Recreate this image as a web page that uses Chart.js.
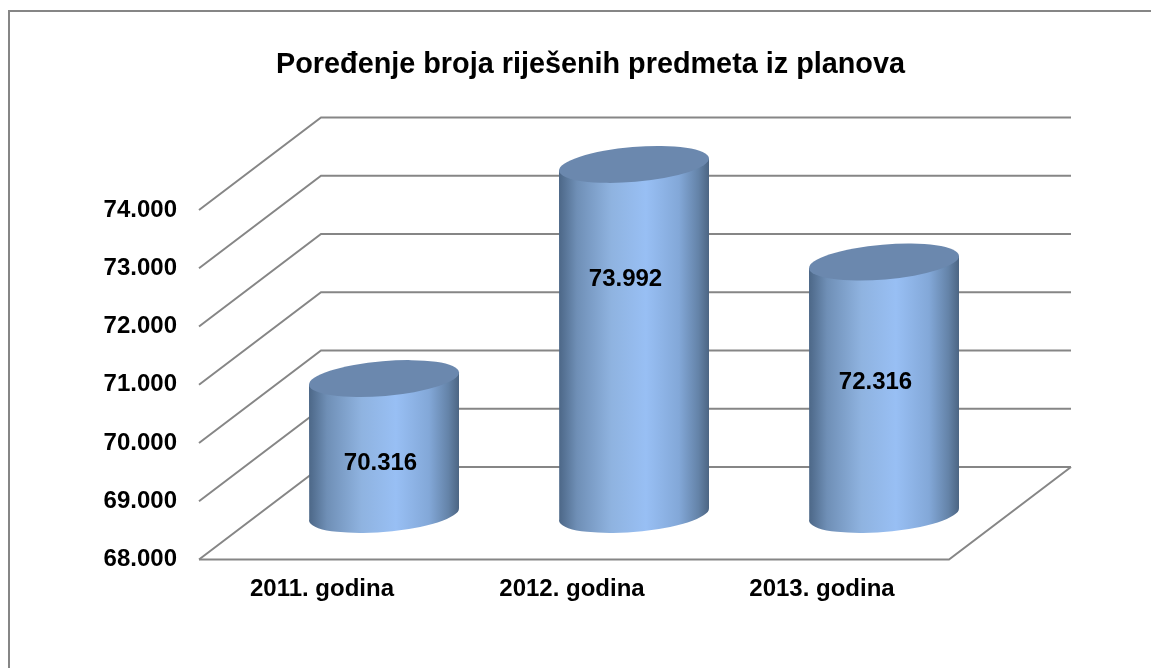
<!DOCTYPE html>
<html>
<head>
<meta charset="utf-8">
<title>Poređenje broja riješenih predmeta iz planova</title>
<script src="https://cdn.jsdelivr.net/npm/chart.js@4/dist/chart.umd.min.js"></script>
<style>
  html, body { margin: 0; padding: 0; background: #fff; overflow: hidden; }
  #wrap { width: 1151px; height: 668px; }
</style>
</head>
<body>
<div id="wrap"><canvas id="chart" width="1151" height="668"></canvas></div>
<script>
var categories = ["2011. godina", "2012. godina", "2013. godina"];
var values = [70316, 73992, 72316];
var tickValues = [68000, 69000, 70000, 71000, 72000, 73000, 74000];
var tickLabels = ["68.000", "69.000", "70.000", "71.000", "72.000", "73.000", "74.000"];
var valueLabels = ["70.316", "73.992", "72.316"];

var FONT = "'Liberation Sans', Arial, sans-serif";
var GRID = "#868686";
// the back wall sits this far behind the axis plane, the bars about half of that
var DEPTH_X = 122, DEPTH_Y = -92.5;
var BAR_DX = 60, BAR_DY = -46;
// where each value label sits relative to the top centre of its bar
var labelDrop = [85, 115, 120];
var labelShift = [-3.5, -8.5, -8.5];

function barGradient(ctx, left, right) {
  var g = ctx.createLinearGradient(left, 0, right, 0);
  g.addColorStop(0, "#4c6787");
  g.addColorStop(0.12, "#6f8fb6");
  g.addColorStop(0.35, "#8fb3e0");
  g.addColorStop(0.58, "#98bff4");
  g.addColorStop(0.8, "#83a8d8");
  g.addColorStop(0.93, "#6483a8");
  g.addColorStop(1, "#4c6583");
  return g;
}

// bars are drawn as tilted cylinders from the geometry the bar controller worked out
Chart.BarElement.prototype.draw = function (ctx) {
  var p = this.getProps(["x", "y", "base", "width"], true);
  var cx = p.x + BAR_DX, top = p.y + BAR_DY, bottom = p.base + BAR_DY + 1;
  var half = p.width / 2;
  var a = half * 1.003, b = 17.4, tilt = -4.83 * Math.PI / 180;
  var edge = 6;
  ctx.save();
  ctx.fillStyle = barGradient(ctx, cx - half, cx + half);
  ctx.beginPath();
  ctx.moveTo(cx - half, top + edge);
  ctx.lineTo(cx + half, top - edge);
  ctx.lineTo(cx + half, bottom - edge);
  ctx.ellipse(cx, bottom, a, b, tilt, -0.09, Math.PI + 0.09, false);
  ctx.closePath();
  ctx.fill();
  ctx.fillStyle = "#6b88ae";
  ctx.beginPath();
  ctx.ellipse(cx, top, a, b, tilt, 0, Math.PI * 2);
  ctx.fill();
  ctx.restore();
};

var walls = {
  id: "walls",
  afterLayout: function (chart) {
    // the title is centred on the plot with its depth, not on the page
    chart.titleBlock.left += 116;
    chart.titleBlock.right += 116;
  },
  beforeDatasetsDraw: function (chart) {
    var ctx = chart.ctx, y = chart.scales.y, area = chart.chartArea;
    ctx.save();
    ctx.strokeStyle = GRID;
    ctx.lineWidth = 2;
    tickValues.forEach(function (v) {
      var py = y.getPixelForValue(v);
      ctx.beginPath();
      ctx.moveTo(area.left, py);
      ctx.lineTo(area.left + DEPTH_X, py + DEPTH_Y);
      ctx.lineTo(area.right + DEPTH_X, py + DEPTH_Y);
      ctx.stroke();
    });
    // floor
    ctx.beginPath();
    ctx.moveTo(area.left, area.bottom);
    ctx.lineTo(area.right, area.bottom);
    ctx.lineTo(area.right + DEPTH_X, area.bottom + DEPTH_Y);
    ctx.stroke();
    ctx.restore();
  },
  afterDatasetsDraw: function (chart) {
    var ctx = chart.ctx;
    ctx.save();
    ctx.fillStyle = "#000";
    ctx.font = "bold 24px " + FONT;
    ctx.textAlign = "center";
    ctx.textBaseline = "middle";
    chart.getDatasetMeta(0).data.forEach(function (bar, i) {
      ctx.fillText(valueLabels[i], bar.x + BAR_DX + labelShift[i], bar.y + BAR_DY + labelDrop[i]);
    });
    ctx.restore();
  },
  afterDraw: function (chart) {
    // frame only shows on the top and left in the original
    var ctx = chart.ctx;
    ctx.save();
    ctx.strokeStyle = GRID;
    ctx.lineWidth = 2;
    ctx.beginPath();
    ctx.moveTo(9, 668);
    ctx.lineTo(9, 11);
    ctx.lineTo(1151, 11);
    ctx.stroke();
    ctx.restore();
  }
};

new Chart(document.getElementById("chart").getContext("2d"), {
  type: "bar",
  data: {
    labels: categories,
    datasets: [{
      label: "Riješeni predmeti",
      data: values,
      base: 68000,
      backgroundColor: "#8fb3e0",
      barThickness: 150,
      clip: false
    }]
  },
  plugins: [walls],
  options: {
    responsive: false,
    animation: false,
    layout: { padding: { top: 30, left: 0, right: 202, bottom: 0 } },
    plugins: {
      legend: { display: false },
      tooltip: { enabled: false },
      title: {
        display: true,
        text: "Poređenje broja riješenih predmeta iz planova",
        color: "#000",
        font: { family: FONT, size: 28.8, weight: "bold" },
        padding: { top: 18.2, bottom: 127.2 }
      }
    },
    scales: {
      x: {
        grid: { display: false },
        border: { display: false },
        ticks: { color: "#000", font: { family: FONT, size: 24, weight: "bold" }, padding: 7, labelOffset: -2, maxRotation: 0 },
        afterFit: function (s) { s.height = 108.5; }
      },
      y: {
        min: 68000,
        max: 74000,
        grid: { display: false },
        border: { display: false },
        afterFit: function (s) { s.width = 199; },
        afterBuildTicks: function (s) { s.ticks = tickValues.map(function (v) { return { value: v }; }); },
        ticks: {
          color: "#000",
          font: { family: FONT, size: 24, weight: "bold" },
          padding: 14,
          callback: function (v) { return tickLabels[tickValues.indexOf(v)]; }
        }
      }
    }
  }
});
</script>
</body>
</html>
